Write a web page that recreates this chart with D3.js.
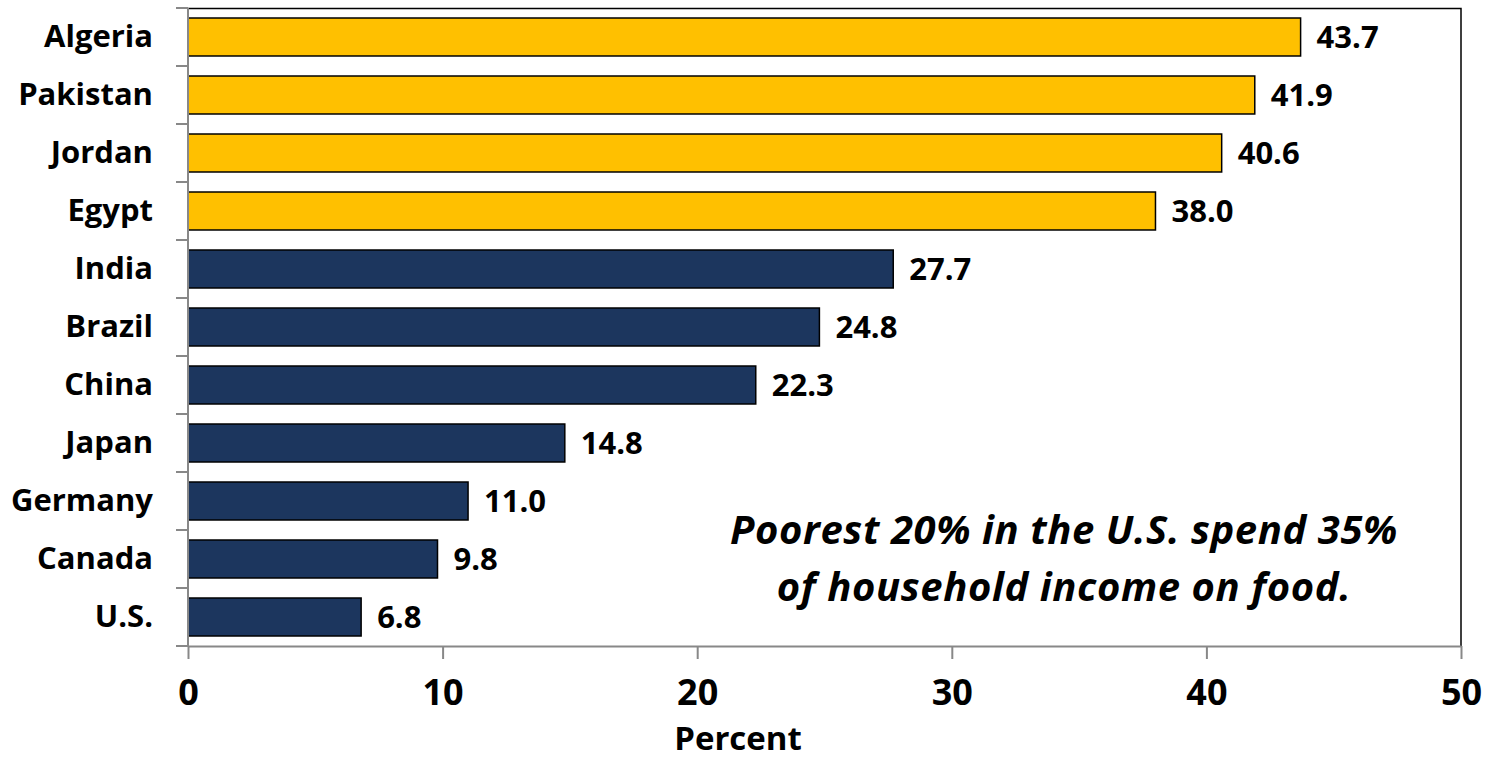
<!DOCTYPE html>
<html>
<head>
<meta charset="utf-8">
<script src="https://cdn.jsdelivr.net/npm/d3@7"></script>
<style>
  html, body { margin: 0; padding: 0; background: #fff; }
  svg { display: block; }
  text { font-family: "Open Sans", Lato, sans-serif; font-weight: 700; fill: #000; }
</style>
</head>
<body>
<svg id="chart" width="1487" height="761"></svg>
<script>
// Share of household spending that goes to food, by country
const countries = ["Algeria", "Pakistan", "Jordan", "Egypt", "India", "Brazil", "China", "Japan", "Germany", "Canada", "U.S."];
const foodShare = [43.7, 41.9, 40.6, 38.0, 27.7, 24.8, 22.3, 14.8, 11.0, 9.8, 6.8];
const highlighted = ["Algeria", "Pakistan", "Jordan", "Egypt"];
const xTicks = [0, 10, 20, 30, 40, 50];
const xTitle = "Percent";
const noteLines = ["Poorest 20% in the U.S. spend 35%", "of household income on food."];

const rows = countries.map((c, i) => ({ country: c, value: foodShare[i] }));

const margin = { top: 8, right: 26, bottom: 115, left: 188 };
const svg = d3.select("#chart");
const W = +svg.attr("width"), H = +svg.attr("height");
const innerW = W - margin.left - margin.right;
const innerH = H - margin.top - margin.bottom;

const x = d3.scaleLinear().domain([0, 50]).range([0, innerW]);
const y = d3.scaleBand().domain(countries).range([0, innerH]).paddingInner(0.345).paddingOuter(0.1725);

const g = svg.append("g").attr("transform", `translate(${margin.left},${margin.top})`);

// plot frame (top and right edges)
g.append("path")
  .attr("d", `M0,0.5H${innerW}V${innerH}`)
  .attr("fill", "none").attr("stroke", "#000").attr("stroke-width", 1.5);

// bars
g.selectAll("rect.bar").data(rows).join("rect")
  .attr("class", "bar")
  .attr("x", 0)
  .attr("y", d => y(d.country))
  .attr("width", d => x(d.value))
  .attr("height", y.bandwidth())
  .attr("fill", d => highlighted.includes(d.country) ? "#FFC000" : "#1C365E")
  .attr("stroke", "#000").attr("stroke-width", 1.5);

// value labels
g.selectAll("text.val").data(rows).join("text")
  .attr("class", "val")
  .attr("x", d => x(d.value) + 16)
  .attr("y", d => y(d.country) + y.bandwidth() / 2 + 11)
  .attr("font-size", 31)
  .text(d => d.value.toFixed(1));

// category axis with boundary ticks
const yBounds = d3.range(countries.length + 1).map(i => i * y.step());
g.append("line").attr("x1", 0).attr("x2", 0).attr("y1", 0).attr("y2", innerH)
  .attr("stroke", "#888").attr("stroke-width", 2);
g.selectAll("line.ytick").data(yBounds).join("line")
  .attr("class", "ytick")
  .attr("x1", -12).attr("x2", 0).attr("y1", d => d).attr("y2", d => d)
  .attr("stroke", "#888").attr("stroke-width", 2);
g.selectAll("text.cat").data(countries).join("text")
  .attr("class", "cat")
  .attr("x", -35)
  .attr("y", d => y(d) + y.bandwidth() / 2 + 10)
  .attr("text-anchor", "end")
  .attr("font-size", 31)
  .text(d => d);

// value axis
const xAxis = g.append("g").attr("transform", `translate(0,${innerH})`)
  .call(d3.axisBottom(x).tickValues(xTicks).tickSize(13).tickSizeOuter(0).tickPadding(20));
xAxis.select(".domain").attr("stroke", "#888").attr("stroke-width", 2);
xAxis.selectAll(".tick line").attr("stroke", "#888").attr("stroke-width", 2);
xAxis.selectAll(".tick text")
  .attr("font-size", 36).attr("font-family", "'Open Sans', sans-serif")
  .attr("font-weight", 700).attr("fill", "#000");

svg.append("text")
  .attr("x", 738).attr("y", 750)
  .attr("text-anchor", "middle")
  .attr("font-size", 33)
  .text(xTitle);

// annotation
const note = svg.append("text")
  .attr("x", 1064).attr("y", 544)
  .attr("text-anchor", "middle")
  .attr("font-size", 40)
  .attr("letter-spacing", 0.6)
  .attr("font-style", "italic");
note.selectAll("tspan").data(noteLines).join("tspan")
  .attr("x", 1064).attr("dy", (d, i) => i === 0 ? 0 : 57)
  .text(d => d);
</script>
</body>
</html>
